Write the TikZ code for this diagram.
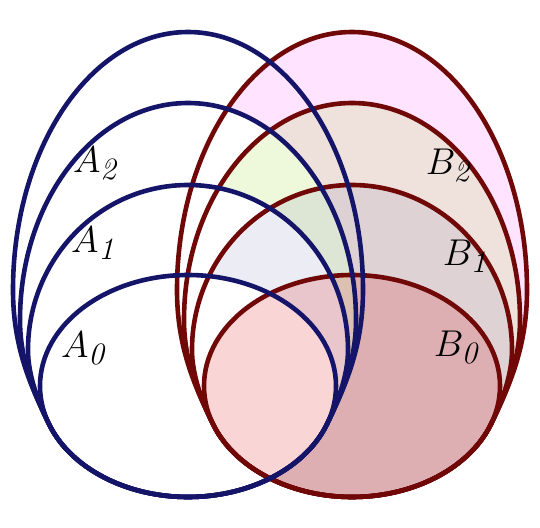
\documentclass[tikz,border=0pt]{standalone}
\definecolor{navyc}{RGB}{20,20,105}
\definecolor{maroonc}{RGB}{112,8,8}
\definecolor{cP}{RGB}{255,0,255}
\definecolor{cG}{RGB}{140,210,0}
\definecolor{cL}{RGB}{110,110,170}
\definecolor{cR}{RGB}{220,10,10}
\tikzset{
  bline/.style={draw=navyc, line width=4.6pt},
  rline/.style={draw=maroonc, line width=4.6pt},
  lab/.style={font=\Huge, scale=1.5, inner sep=0pt},
  % common lower part (shared with the smallest set)
  lowpart/.style={insert path={
     .. controls (305.79,467.81) and (250.22,497) .. (188,497)
     .. controls (125.78,497) and (70.21,467.81) .. (48.93,423.96)}},
  s0/.style={insert path={(188,386) ellipse [x radius=148pt, y radius=111pt]}},
  s1/.style={insert path={(48.93,423.96) .. controls (38,401.5) and (28,375) .. (28,350)
     .. controls (28,258.9) and (99.6,185) .. (188,185)
     .. controls (276.4,185) and (348,258.9) .. (348,350)
     .. controls (348,375) and (338,401.5) .. (327.07,423.96)}, lowpart, insert path={-- cycle}},
  s2/.style={insert path={(48.93,423.96) .. controls (33.6,392.5) and (20,360) .. (20,320)
     .. controls (20,200.15) and (95.2,103) .. (188,103)
     .. controls (280.8,103) and (356,200.15) .. (356,320)
     .. controls (356,360) and (342.4,392.5) .. (327.07,423.96)}, lowpart, insert path={-- cycle}},
  s3/.style={insert path={(48.93,423.96) .. controls (29.2,383.5) and (13,345) .. (13,290)
     .. controls (13,147.5) and (91.35,32) .. (188,32)
     .. controls (284.65,32) and (363,147.5) .. (363,290)
     .. controls (363,345) and (346.8,383.5) .. (327.07,423.96)}, lowpart, insert path={-- cycle}},
  bset/.style={xshift=164pt},
}
\begin{document}
\begin{tikzpicture}[x=1pt,y=-1pt]
\useasboundingbox (0,0) rectangle (540,527);
% fills: white for the A sets, translucent tints for the B sets
\fill[white] [s3];
\fill[cP, opacity=.11, bset] [s3];
\fill[white] [s2];
\fill[cG, opacity=.14, bset] [s2];
\fill[white] [s1];
\fill[cL, opacity=.13, bset] [s1];
\fill[white] [s0];
\fill[cR, opacity=.17, bset] [s0];
% outlines of the B sets
\path[rline, bset] [s3];
\path[rline, bset] [s2];
\path[rline, bset] [s1];
\path[rline, bset] [s0];
% outlines of the A sets
\path[bline] [s3];
\path[bline] [s2];
\path[bline] [s1];
\path[bline] [s0];
% labels
\node[lab] (a2) at (97,163) {$A_{\mathit{2}}$};
\node[lab] (a1) at (95,243) {$A_{\mathit{1}}$};
\node[lab] (a0) at (85,348) {$A_{\mathit{0}}$};
\node[lab] (b2) at (450,165) {$B_{\mathit{2}}$};
\node[lab] (b1) at (467,256) {$B_{\mathit{1}}$};
\node[lab] (b0) at (458,347) {$B_{\mathit{0}}$};
\end{tikzpicture}
\end{document}
